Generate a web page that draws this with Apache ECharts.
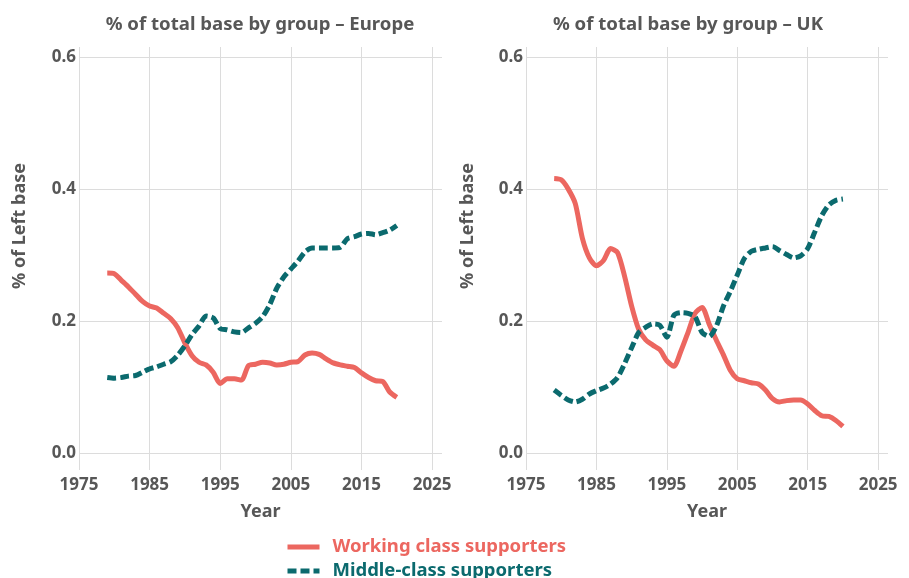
<!DOCTYPE html>
<html>
<head>
<meta charset="utf-8">
<script src="https://cdn.jsdelivr.net/npm/echarts@6/dist/echarts.min.js"></script>
<style>
  html, body { margin: 0; padding: 0; background: #fff; }
  #chart { width: 909px; height: 578px; }
</style>
</head>
<body>
<div id="chart"></div>
<script>
// data
const years = [1979, 1980, 1981, 1982, 1983, 1984, 1985, 1986, 1987, 1988, 1989,
  1990, 1991, 1992, 1993, 1994, 1995, 1996, 1997, 1998, 1999,
  2000, 2001, 2002, 2003, 2004, 2005, 2006, 2007, 2008, 2009,
  2010, 2011, 2012, 2013, 2014, 2015, 2016, 2017, 2018, 2019, 2020]

const europeWorking = [0.273, 0.272, 0.262, 0.252, 0.241, 0.230, 0.223, 0.220, 0.212, 0.204, 0.190,
  0.167, 0.148, 0.138, 0.134, 0.123, 0.106, 0.113, 0.113, 0.111, 0.133,
  0.135, 0.138, 0.137, 0.134, 0.135, 0.138, 0.139, 0.149, 0.152, 0.150,
  0.143, 0.137, 0.134, 0.132, 0.130, 0.122, 0.115, 0.110, 0.109, 0.093, 0.085]

const europeMiddle = [0.115, 0.114, 0.115, 0.117, 0.118, 0.123, 0.128, 0.131, 0.135, 0.139, 0.149,
  0.163, 0.180, 0.193, 0.208, 0.205, 0.189, 0.187, 0.184, 0.183, 0.190,
  0.197, 0.207, 0.225, 0.250, 0.267, 0.279, 0.291, 0.305, 0.311, 0.311,
  0.311, 0.311, 0.312, 0.325, 0.328, 0.332, 0.333, 0.331, 0.334, 0.338, 0.345]

const ukWorking = [0.416, 0.414, 0.400, 0.378, 0.326, 0.296, 0.284, 0.292, 0.310, 0.304, 0.268,
  0.223, 0.188, 0.172, 0.164, 0.157, 0.140, 0.132, 0.155, 0.183, 0.212,
  0.221, 0.196, 0.172, 0.150, 0.126, 0.113, 0.110, 0.107, 0.105, 0.096,
  0.083, 0.078, 0.080, 0.081, 0.081, 0.075, 0.065, 0.057, 0.056, 0.050, 0.041]

const ukMiddle = [0.096, 0.088, 0.081, 0.078, 0.082, 0.090, 0.095, 0.099, 0.105, 0.115, 0.136,
  0.160, 0.183, 0.191, 0.196, 0.194, 0.176, 0.209, 0.213, 0.212, 0.207,
  0.183, 0.177, 0.192, 0.222, 0.245, 0.270, 0.295, 0.306, 0.309, 0.311,
  0.313, 0.307, 0.301, 0.296, 0.299, 0.310, 0.335, 0.360, 0.376, 0.383, 0.385]

const yTicks = [0, 0.2, 0.4, 0.6]
const panelTitles = ['% of total base by group – Europe', '% of total base by group – UK']
const seriesNames = ['Working class supporters', 'Middle-class supporters']

const RED = '#ec6760'
const TEAL = '#0b6a6e'
const GREY = '#575757'
const FONT = 'Noto Sans'

const pairs = y => years.map((yr, i) => [yr, y[i]])

const chart = echarts.init(document.getElementById('chart'))

function xAxis(idx) {
  return {
    gridIndex: idx,
    type: 'value',
    min: 1975,
    max: 2026.4,
    interval: 10,
    name: 'Year',
    nameLocation: 'middle',
    nameGap: 33,
    nameTextStyle: { color: GREY, fontSize: 18, fontWeight: 'bold', fontFamily: FONT },
    axisLine: { show: false },
    axisTick: { show: false },
    axisLabel: {
      color: GREY, fontSize: 17, fontWeight: 'bold', fontFamily: FONT, margin: 7,
      formatter: v => (Math.abs((v - 1975) % 10) < 1e-6 ? String(v) : '')
    },
    splitLine: { show: true, showMaxLine: false, lineStyle: { color: '#dcdcdc', width: 1 } }
  }
}

function yAxis(idx) {
  return {
    gridIndex: idx,
    type: 'value',
    min: -0.025,
    max: 0.615,
    axisLine: { show: false },
    axisTick: { show: false, customValues: yTicks },
    axisLabel: {
      customValues: yTicks,
      color: GREY, fontSize: 17, fontWeight: 'bold', fontFamily: FONT, margin: 3,
      formatter: v => v.toFixed(1)
    },
    splitLine: { show: true, lineStyle: { color: '#dcdcdc', width: 1 } }
  }
}

function line(name, data, idx, color, dashed) {
  return {
    name: name,
    type: 'line',
    xAxisIndex: idx,
    yAxisIndex: idx,
    data: data,
    symbol: 'none',
    smooth: 0.25,
    lineStyle: { color: color, width: 5, type: dashed ? [9, 4] : 'solid', cap: 'butt' },
    itemStyle: { color: color },
    animation: false
  }
}

chart.setOption({
  backgroundColor: '#fff',
  textStyle: { fontFamily: FONT },
  title: panelTitles.map((t, i) => ({
    text: t,
    left: i === 0 ? 255 : 683,
    top: 10,
    textAlign: 'center',
    textStyle: { color: GREY, fontSize: 18.6, fontWeight: 'bold', fontFamily: FONT }
  })),
  grid: [
    { left: 79, top: 47, width: 363, height: 423 },
    { left: 526, top: 47, width: 362, height: 423 }
  ],
  xAxis: [xAxis(0), xAxis(1)],
  yAxis: [yAxis(0), yAxis(1)],
  legend: {
    orient: 'vertical',
    left: 280,
    top: 531,
    height: 60,
    itemWidth: 32,
    itemHeight: 14,
    itemGap: 2,
    itemStyle: { opacity: 0 },
    lineStyle: { width: 5 },
    textStyle: { fontSize: 18.5, lineHeight: 22, fontWeight: 'bold', fontFamily: FONT, padding: [0, 0, 0, 8] },
    data: [
      { name: seriesNames[0], textStyle: { color: RED } },
      { name: seriesNames[1], textStyle: { color: TEAL } }
    ]
  },
  graphic: [20, 468].map(x => ({
    type: 'text',
    x: x,
    y: 226,
    rotation: Math.PI / 2,
    style: {
      text: '% of Left base',
      fill: GREY,
      font: 'bold 18px "Noto Sans"',
      align: 'center',
      verticalAlign: 'middle'
    }
  })),
  series: [
    line(seriesNames[0], pairs(europeWorking), 0, RED, false),
    line(seriesNames[1], pairs(europeMiddle), 0, TEAL, true),
    line(seriesNames[0], pairs(ukWorking), 1, RED, false),
    line(seriesNames[1], pairs(ukMiddle), 1, TEAL, true)
  ]
})
</script>
</body>
</html>
